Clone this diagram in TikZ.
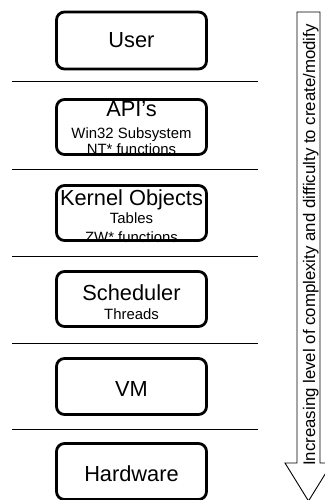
\documentclass[tikz,border=0pt]{standalone}
\usepackage{fontspec}
\setmainfont{Liberation Sans}
\newcommand{\bigfont}{\fontsize{21.8}{24}\selectfont}
\newcommand{\smallfont}{\fontsize{14.9}{17}\selectfont}
\begin{document}
\begin{tikzpicture}[x=1pt,y=-1pt,
    layer/.style={draw,line width=2.8pt,rounded corners=8pt,minimum width=150pt,inner sep=0pt},
    title/.style={font=\bigfont,anchor=base,inner sep=0pt},
    sub/.style={font=\smallfont,anchor=base,inner sep=0pt},
    sep/.style={line width=1pt}]
    \useasboundingbox (0,0) rectangle (324,500);
    % texts
    \node[title] (usert) at (131.5,48) {User};
    \node[title] (apit) at (131.5,117) {API's};
    \node[sub] (apis) at (131.5,138) {Win32 Subsystem};
    \node[sub] (apif) at (131.5,154) {NT* functions};
    \node[title] (kernelt) at (131.5,205) {Kernel Objects};
    \node[sub] (kernels) at (131.5,223) {Tables};
    \node[sub] (kernelf) at (131.5,242) {ZW* functions};
    \node[title] (schedt) at (131.5,300) {Scheduler};
    \node[sub] (scheds) at (131.5,319) {Threads};
    \node[title] (vmt) at (131.5,396) {VM};
    \node[title] (hwt) at (131.5,481) {Hardware};
    % layers
    \node[layer,minimum height=57pt] (user) at (131.5,40.5) {};
    \node[layer,minimum height=55pt] (api) at (131.5,127) {};
    \node[layer,minimum height=55pt] (kernel) at (131.5,213) {};
    \node[layer,minimum height=55pt] (sched) at (131.5,299) {};
    \node[layer,minimum height=56pt] (vm) at (131.5,386.5) {};
    \node[layer,minimum height=56pt] (hw) at (131.5,471.5) {};
    % separators
    \draw[sep] (12,82) -- (258,82);
    \draw[sep] (12,169.5) -- (258,169.5);
    \draw[sep] (12,256.5) -- (258,256.5);
    \draw[sep] (12,343) -- (258,343);
    \draw[sep] (12,429.5) -- (258,429.5);
    % arrow
    \draw[line width=0.9pt] (297,12) -- (320,12) -- (320,463) -- (332,463)
        -- (308.5,501) -- (285,463) -- (297,463) -- cycle;
    \node[font=\fontsize{16.8}{19}\selectfont,rotate=90,anchor=base,inner sep=0pt] (arrowt) at (315,245)
        {Increasing level of complexity and difficulty to create/modify};
\end{tikzpicture}
\end{document}
